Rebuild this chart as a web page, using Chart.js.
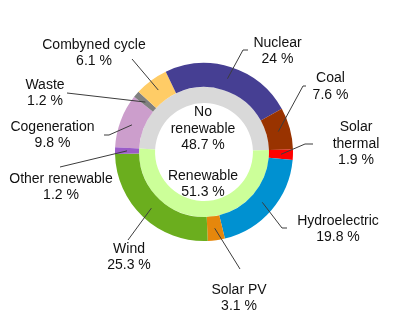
<!DOCTYPE html>
<html>
<head>
<meta charset="utf-8">
<script src="https://cdn.jsdelivr.net/npm/chart.js@4.4.1/dist/chart.umd.min.js"></script>
<style>
  html, body { margin: 0; padding: 0; background: #fff; }
  canvas { display: block; }
</style>
</head>
<body>
<canvas id="mix" width="404" height="331"></canvas>
<script>
// Electricity generation by source (%)
const sources = ['Cogeneration', 'Waste', 'Combyned cycle', 'Nuclear', 'Coal',
                 'Solar thermal', 'Hydroelectric', 'Solar PV', 'Wind', 'Other renewable'];
const shares = [9.8, 1.2, 6.1, 24, 7.6, 1.9, 19.8, 3.1, 25.3, 1.2];

// Totals by group (%)
const groups = ['No renewable', 'Renewable'];
const groupShares = [48.7, 51.3];

const sourceColors = ['#CC9ECC', '#808080', '#FFCC66', '#463F93', '#993300',
                      '#FF0000', '#0091D1', '#E6870C', '#6BAE1E', '#9A5CC8'];
const groupColors = ['#D9D9D9', '#CCFF99'];

// Callout placement: text block centre, leader anchor beside the text,
// and a short horizontal elbow before the line heads to its slice.
const sourceLabelLayout = [
  { x: 52.5,  y: 135,   ax: 104, ay: 135, elbow: 5 },
  { x: 45,    y: 93.3,  ax: 67,  ay: 93,  elbow: 0 },
  { x: 94,    y: 53.3,  ax: 132, ay: 59,  elbow: 0 },
  { x: 277.5, y: 51,    ax: 248, ay: 50,  elbow: -5 },
  { x: 330.5, y: 86.5,  ax: 306, ay: 86,  elbow: -3 },
  { x: 356,   y: 144,   ax: 313, ay: 144, elbow: -8, wrap: true },
  { x: 338,   y: 229,   ax: 287, ay: 228, elbow: -5 },
  { x: 239,   y: 298.3, ax: 240, ay: 269, elbow: 0 },
  { x: 129,   y: 257,   ax: 128, ay: 240, elbow: 0 },
  { x: 61,    y: 187,   ax: 60,  ay: 167, elbow: 0 }
];
// Group captions sit in the middle, offset vertically from the centre
const groupLabelLayout = [ { dy: -23, wrap: true }, { dy: 32 } ];

const FONT = '14px "Liberation Sans", Arial, sans-serif';
const LINE_H = 16.5;

function labelLines(name, value, wrap) {
  const head = wrap ? name.split(' ') : [name];
  return head.concat([value + ' %']);
}

function drawBlock(ctx, lines, cx, cy) {
  const top = cy - (lines.length - 1) * LINE_H / 2;
  lines.forEach((t, k) => ctx.fillText(t, cx, top + k * LINE_H));
}

const callouts = {
  id: 'callouts',
  afterDatasetsDraw(chart) {
    const ctx = chart.ctx;
    const arcs = chart.getDatasetMeta(0).data;
    ctx.save();
    ctx.strokeStyle = '#3c3c3c';
    ctx.lineWidth = 1;
    arcs.forEach((arc, i) => {
      const p = arc.getCenterPoint(true);
      const L = sourceLabelLayout[i];
      ctx.beginPath();
      ctx.moveTo(L.ax, L.ay);
      ctx.lineTo(L.ax + L.elbow, L.ay);
      ctx.lineTo(p.x, p.y);
      ctx.stroke();
    });

    ctx.font = FONT;
    ctx.fillStyle = '#111';
    ctx.textAlign = 'center';
    ctx.textBaseline = 'middle';
    sources.forEach((name, i) => {
      const L = sourceLabelLayout[i];
      drawBlock(ctx, labelLines(name, shares[i], L.wrap), L.x, L.y);
    });

    const c = arcs[0];
    groups.forEach((name, i) => {
      const G = groupLabelLayout[i];
      drawBlock(ctx, labelLines(name, groupShares[i], G.wrap), c.x - 1, c.y + G.dy);
    });
    ctx.restore();
  }
};

new Chart(document.getElementById('mix'), {
  type: 'doughnut',
  data: {
    labels: sources,
    datasets: [
      {
        data: shares,
        backgroundColor: sourceColors,
        borderWidth: 0,
        hoverOffset: 0,
        weight: 24
      },
      {
        data: groupShares,
        labels: groups,
        backgroundColor: groupColors,
        borderWidth: 0,
        hoverOffset: 0,
        weight: 16
      }
    ]
  },
  options: {
    responsive: false,
    animation: false,
    rotation: 273,
    cutout: '55%',
    layout: { padding: { left: 115, right: 111, top: 63, bottom: 90 } },
    plugins: {
      legend: { display: false },
      tooltip: { enabled: false }
    },
    events: []
  },
  plugins: [callouts]
});
</script>
</body>
</html>
